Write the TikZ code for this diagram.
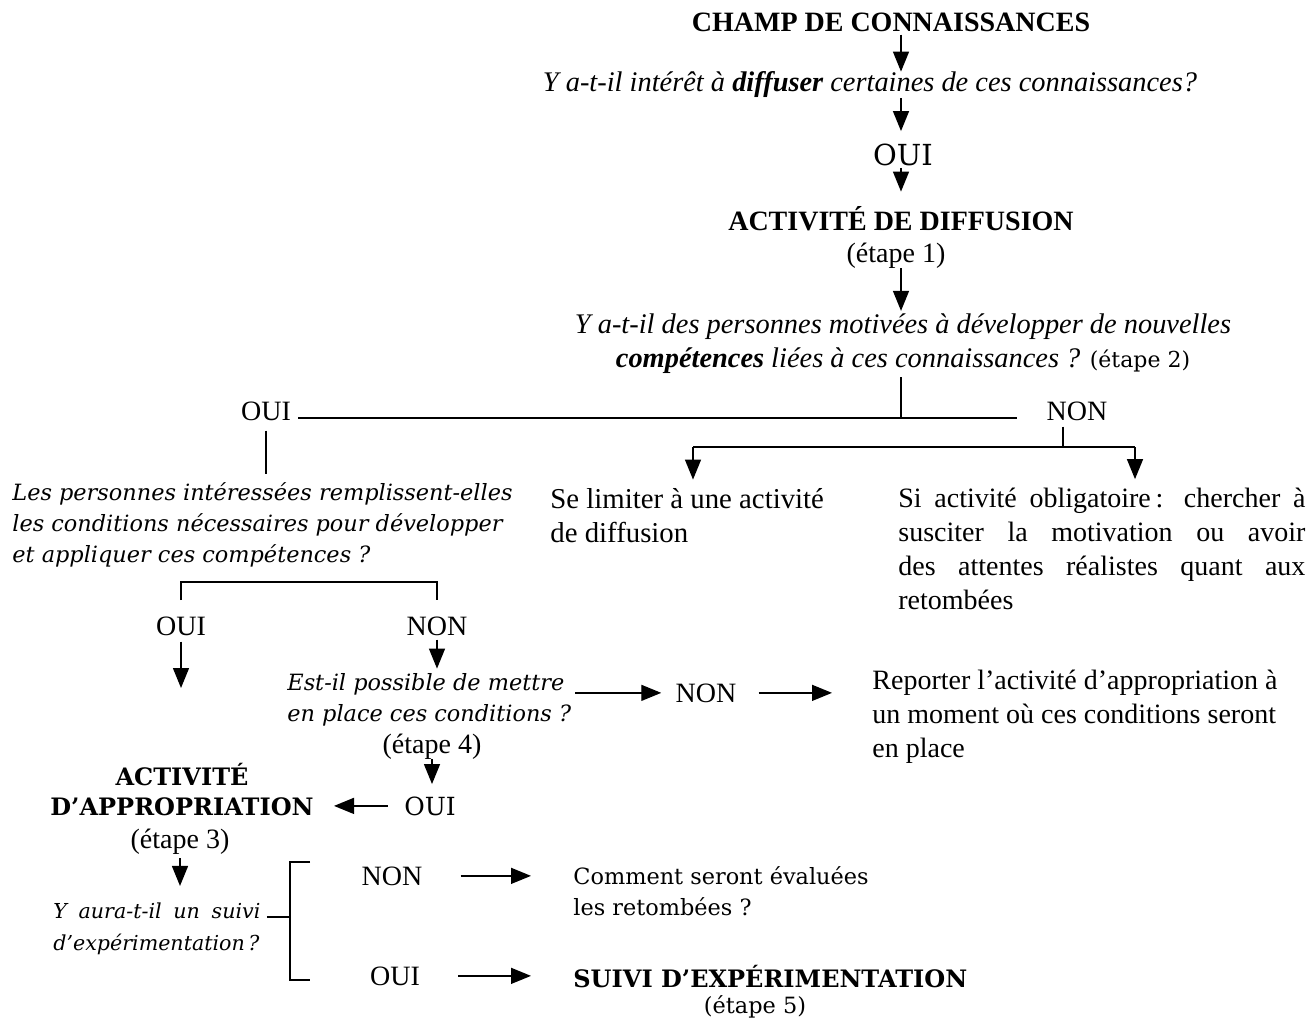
\documentclass[tikz,border=0pt]{standalone}
\usepackage{fontspec}
\setmainfont{Liberation Serif}
\newfontfamily\bkm{DejaVu Serif}
\usetikzlibrary{arrows.meta}

\begin{document}
\begin{tikzpicture}[x=0.5pt, y=-0.5pt,
    tms/.style={inner sep=0pt, font=\fontsize{14}{17}\selectfont},
    tmsi/.style={inner sep=0pt, font=\itshape\fontsize{14.2}{17}\selectfont},
    bk/.style={inner sep=0pt, font=\bkm\fontsize{11.2}{15.5}\selectfont},
    bki/.style={inner sep=0pt, font=\bkm\itshape\fontsize{11.2}{15.5}\selectfont},
    bkb/.style={inner sep=0pt, font=\bkm\bfseries\fontsize{12}{15}\selectfont},
    fleche/.style={-{Triangle[width=8pt,length=10pt]}, line width=0.7pt},
    mince/.style={line width=0.6pt},
    trait/.style={line width=1.2pt}]
    \useasboundingbox (0,0) rectangle (1311,1022);
    \coordinate (axe) at (901,0);

    \node[tms, anchor=base] (champ) at (891,32) {\textbf{CHAMP DE CONNAISSANCES}};
    \node[tmsi, anchor=base] (qdiff) at (870,92) {Y a-t-il intérêt à \textbf{diffuser} certaines de ces connaissances?};
    \node[bk, font=\bkm\fontsize{14.5}{17}\selectfont, anchor=base] (ouiA) at (903,165) {OUI};
    \node[tms, anchor=base] (diffusion) at (901,230) {\textbf{ACTIVITÉ DE DIFFUSION}};
    \node[tms, anchor=base] (etape1) at (896,262) {(étape 1)};
    \node[tmsi, anchor=base, align=center] (qcomp) at (903,367) {Y a-t-il des personnes motivées à développer de nouvelles\\ \textbf{compétences} liées à ces connaissances ? {\upshape\bkm\fontsize{11}{15}\selectfont(étape 2)}};

    \draw[fleche, shorten <=1pt] (champ.south -| axe) -- (qdiff.north -| axe);
    \draw[fleche, shorten >=6pt] (qdiff.south -| axe) -- (ouiA.north -| axe);
    \draw[fleche, shorten <=1pt, shorten >=7pt] (ouiA.south -| axe) -- (diffusion.north -| axe);
    \draw[fleche, shorten >=1pt] (etape1.south -| axe) -- (qcomp.north -| axe);

    \node[tms, anchor=base] (ouiB) at (266,420) {OUI};
    \node[tms, anchor=base] (nonB) at (1077,420) {NON};
    \coordinate (jB) at (901,418);
    \coordinate (lg) at (298,418);
    \coordinate (ld) at (1017,418);
    \draw[mince, shorten <=2pt] (qcomp.south -| axe) -- (jB);
    \draw[trait] (lg) -- (ld);

    \node[bki, anchor=base west, align=left] (qcond) at (12,562) {Les personnes intéressées remplissent-elles\\les conditions nécessaires pour développer\\et appliquer ces compétences ?};
    \node[tms, font=\fontsize{14.4}{17}\selectfont, anchor=base west, align=left] (limiter) at (550,542) {Se limiter à une activité\\de diffusion};
    \node[tms, anchor=base west, text width=203.5pt, align=justify] (oblig) at (898,507) {Si activité obligatoire\,: chercher à\linebreak susciter la motivation ou avoir\linebreak des attentes réalistes quant aux\linebreak retombées};

    \draw[mince, shorten <=5pt, shorten >=4pt] (ouiB.south) -- (ouiB.south |- qcond.north);
    \coordinate (nb) at (1063,447);
    \coordinate (gL) at (693,447);
    \coordinate (dL) at (1135,447);
    \draw[mince, shorten <=3pt] (nb |- nonB.south) -- (nb);
    \draw[trait] (gL) -- (dL);
    \draw[fleche, shorten >=4pt] (gL) -- (gL |- limiter.north);
    \draw[fleche, shorten >=4pt] (dL) -- (dL |- oblig.north);

    \node[tms, anchor=base] (ouiC) at (181,635) {OUI};
    \node[tms, anchor=base] (nonC) at (437,635) {NON};
    \draw[mince] ([yshift=8pt]ouiC.north) |- ([yshift=17pt]nonC.north) -- ([yshift=8pt]nonC.north);
    \coordinate (finC) at (181,688);
    \draw[fleche, shorten <=3pt] (ouiC.south) -- (finC);

    \node[bki, anchor=base west, align=left] (qposs) at (287,721) {Est-il possible de mettre\\en place ces conditions ?};
    \node[tms, anchor=base] (etape4) at (432,753) {(étape 4)};
    \node[tms, anchor=base] (nonD) at (706,702) {NON};
    \node[tms, anchor=base west, align=left] (reporter) at (872,757) {Reporter l’activité d’appropriation à\\un moment où ces conditions seront\\en place};
    \draw[fleche, shorten <=2pt, shorten >=2pt] (nonC.south) -- (nonC.south |- qposs.north);
    \draw[fleche, shorten <=2pt, shorten >=7pt] (qposs.east |- nonD) -- (nonD.west);
    \draw[fleche, shorten <=11pt, shorten >=20pt] (nonD.east) -- (nonD.east -| reporter.west);

    \node[bkb, anchor=base, align=center] (appro) at (182,815) {ACTIVITÉ\\D’APPROPRIATION};
    \node[bk, font=\bkm\fontsize{12.5}{15}\selectfont, anchor=base] (ouiD) at (430,815) {OUI};
    \node[tms, anchor=base] (etape3) at (180,848) {(étape 3)};
    \draw[fleche, shorten >=6pt] (etape4.south) -- (etape4.south |- ouiD.north);
    \draw[fleche, shorten <=8pt, shorten >=10pt] (ouiD.west) -- (ouiD.west -| appro.east);

    \node[bki, font=\bkm\itshape\fontsize{10.3}{16}\selectfont, anchor=base west, text width=103.5pt, align=justify] (qsuivi) at (53,918) {Y aura-t-il un suivi\linebreak d’expérimentation\,?};
    \draw[fleche, shorten <=2pt, shorten >=8pt] (etape3.south) -- (etape3.south |- qsuivi.north);

    \node[tms, anchor=base] (nonE) at (392,885) {NON};
    \node[tms, anchor=base] (ouiE) at (395,985) {OUI};
    \coordinate (crochet) at (290,917);
    \draw[mince, shorten <=3pt] (qsuivi.east |- crochet) -- (crochet);
    \draw[mince] (crochet) ++(20,-55) -- ++(-20,0) -- ++(0,118) -- ++(20,0);

    \node[bk, anchor=base west, align=left] (evaluer) at (573,915) {Comment seront évaluées\\les retombées ?};
    \node[bkb, anchor=base west] (suivi) at (573,987) {SUIVI D’EXPÉRIMENTATION};
    \node[bk, anchor=base] (etape5) at (755,1013) {(étape 5)};
    \draw[fleche, shorten <=19pt, shorten >=21pt] (nonE.east) -- (nonE.east -| evaluer.west);
    \draw[fleche, shorten <=19pt, shorten >=21pt] (ouiE.east) -- (ouiE.east -| suivi.west);
\end{tikzpicture}
\end{document}
